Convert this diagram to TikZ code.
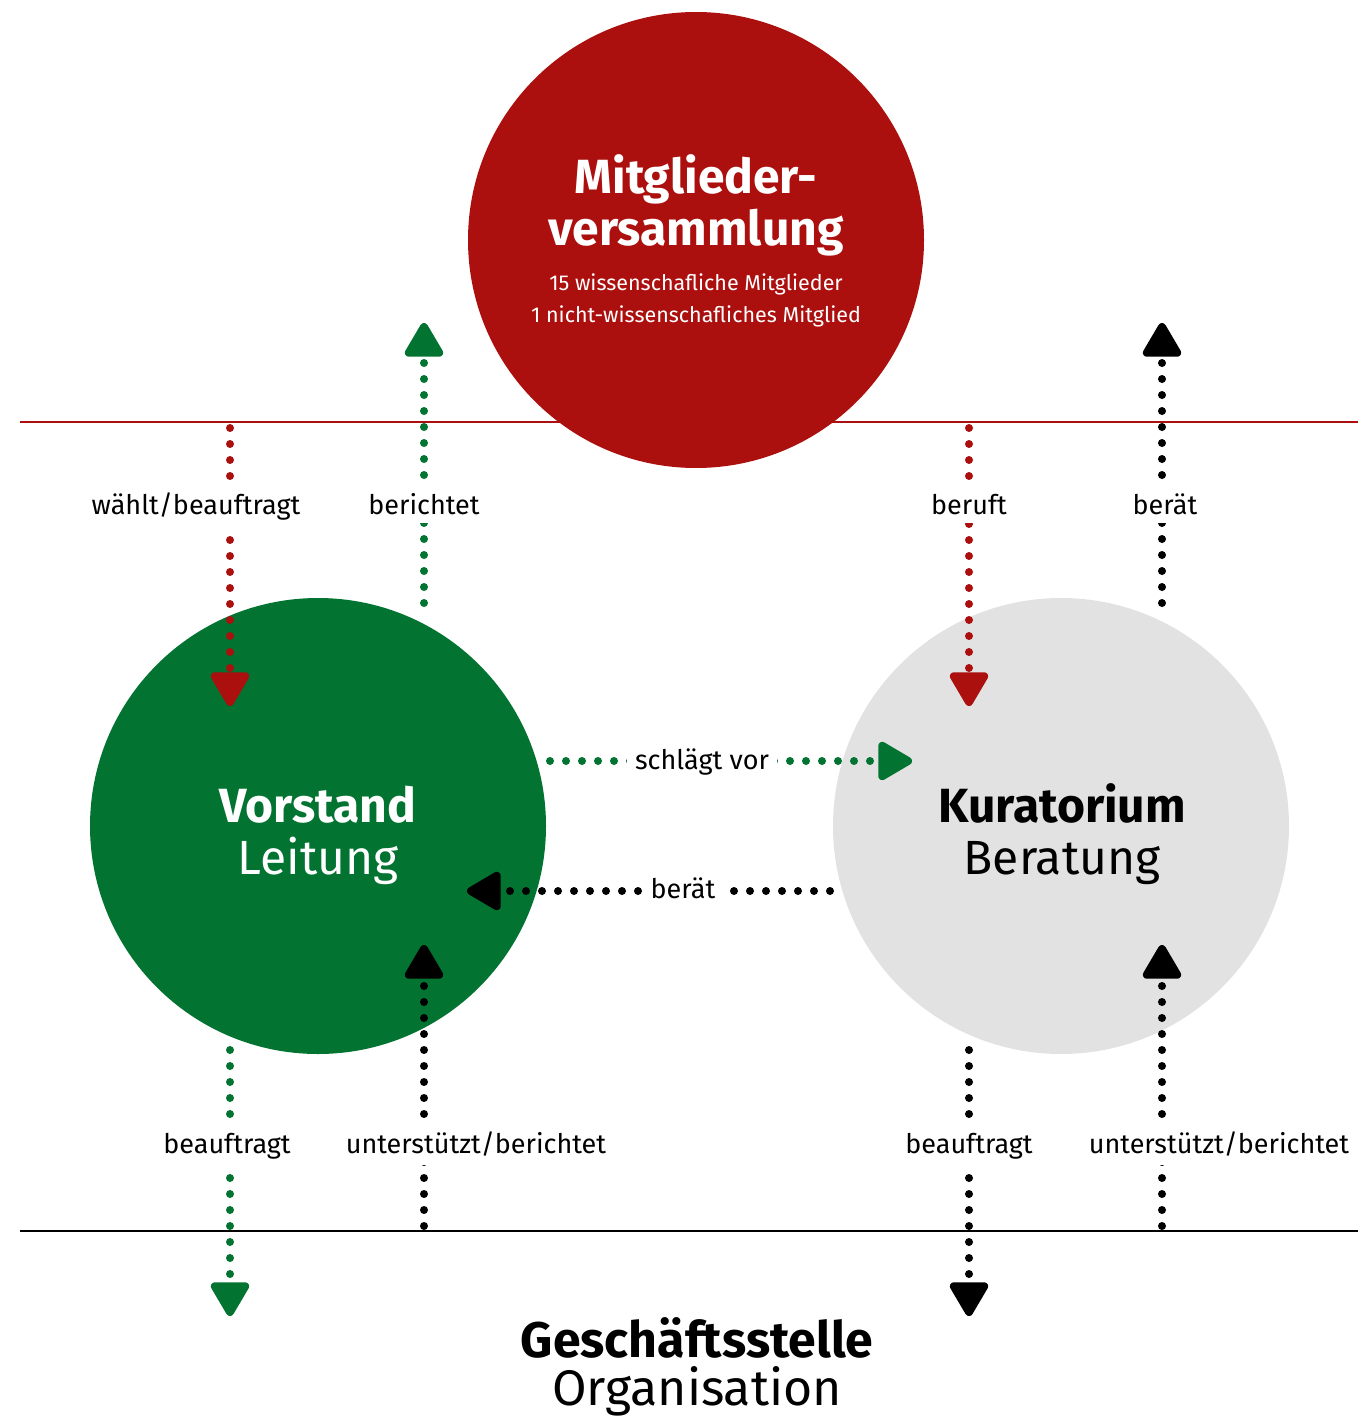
\documentclass[tikz,border=0pt]{standalone}
\usepackage{fontspec}
\setmainfont{Fira Sans}
\usetikzlibrary{arrows.meta}
\definecolor{mvred}{HTML}{AB0F0E}
\definecolor{vgreen}{HTML}{027331}
\definecolor{kgrey}{HTML}{E2E2E2}
\tikzset{
  circ/.style={circle, minimum size=456pt, inner sep=0pt, draw=none},
  dotline/.style={line width=8pt, line cap=round, dash pattern=on 0pt off 16pt,
    -{Triangle[length=38pt,width=42pt,round]}},
  lbl/.style={fill=white, font=\fontsize{27}{30}\selectfont, anchor=base, inner xsep=8pt, inner ysep=9pt},
  head/.style={font=\fontsize{48}{52}\selectfont\bfseries, anchor=base},
  sub/.style={font=\fontsize{48}{52}\selectfont, anchor=base},
  bighead/.style={font=\fontsize{50}{54}\selectfont\bfseries, anchor=base},
  bigsub/.style={font=\fontsize{50}{54}\selectfont, anchor=base},
  small/.style={anchor=base, text=white, font=\fontsize{21.5}{24}\selectfont},
}
\begin{document}
\begin{tikzpicture}[x=1pt,y=-1pt]
\useasboundingbox (0,0) rectangle (1358,1418);
% lines
\coordinate (rl1) at (20,422);
\coordinate (rl2) at (1358,422);
\coordinate (bl1) at (20,1231);
\coordinate (bl2) at (1358,1231);
\draw[mvred, line width=2pt] (rl1) -- (rl2);
\draw[black, line width=2pt] (bl1) -- (bl2);
% circles
\node[circ, fill=mvred] (mv) at (696,240) {};
\node[circ, fill=vgreen] (vs) at (318,826) {};
\node[circ, fill=kgrey] (ku) at (1061,826) {};
% circle texts
\node[head, text=white] (mvt1) at (696,193) {Mitglieder-};
\node[head, text=white] (mvt2) at (696,245) {versammlung};
\node[small] (mvt3) at (696,290) {15 wissenschafliche Mitglieder};
\node[small] (mvt4) at (696,322) {1 nicht-wissenschafliches Mitglied};
\node[head, text=white] (vst1) at (318,822) {Vorstand};
\node[sub, text=white] (vst2) at (318,874) {Leitung};
\node[head] (kut1) at (1062,822) {Kuratorium};
\node[sub] (kut2) at (1062,874) {Beratung};
\node[bighead] (gs1) at (697,1357) {Geschäftsstelle};
\node[bigsub] (gs2) at (697,1405) {Organisation};
% connector ends
\coordinate (a1s) at (230,428);  \coordinate (a1e) at (230,706);
\coordinate (a2s) at (424,603);  \coordinate (a2e) at (424,323);
\coordinate (a3s) at (969,428);  \coordinate (a3e) at (969,706);
\coordinate (a4s) at (1162,603); \coordinate (a4e) at (1162,323);
\coordinate (a5s) at (550,761);  \coordinate (a5e) at (912,761);
\coordinate (a6s) at (830,891);  \coordinate (a6e) at (467,891);
\coordinate (a7s) at (230,1050); \coordinate (a7e) at (230,1316);
\coordinate (a8s) at (424,1226); \coordinate (a8e) at (424,945);
\coordinate (a9s) at (969,1050); \coordinate (a9e) at (969,1316);
\coordinate (a10s) at (1162,1226); \coordinate (a10e) at (1162,945);
% connectors
\draw[dotline, mvred] (a1s) -- (a1e);
\draw[dotline, vgreen] (a2s) -- (a2e);
\draw[dotline, mvred] (a3s) -- (a3e);
\draw[dotline, black] (a4s) -- (a4e);
\draw[dotline, vgreen] (a5s) -- (a5e);
\draw[dotline, black] (a6s) -- (a6e);
\draw[dotline, vgreen] (a7s) -- (a7e);
\draw[dotline, black] (a8s) -- (a8e);
\draw[dotline, black] (a9s) -- (a9e);
\draw[dotline, black] (a10s) -- (a10e);
% labels
\node[lbl] (l1) at (196,514) {wählt/beauftragt};
\node[lbl] (l2) at (424,514) {berichtet};
\node[lbl] (l3) at (969,514) {beruft};
\node[lbl] (l4) at (1165,514) {berät};
\node[lbl] (l5) at (702,769) {schlägt vor};
\node[lbl] (l6) at (683,898) {berät};
\node[lbl] (l7) at (227,1153) {beauftragt};
\node[lbl] (l8) at (476,1153) {unterstützt/berichtet};
\node[lbl] (l9) at (969,1153) {beauftragt};
\node[lbl] (l10) at (1219,1153) {unterstützt/berichtet};
\end{tikzpicture}
\end{document}
